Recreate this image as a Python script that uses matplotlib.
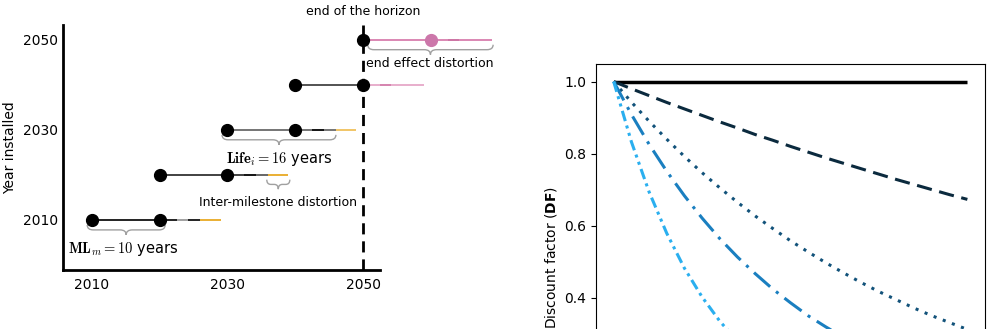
import numpy as np
import matplotlib
matplotlib.use("Agg")
import matplotlib.pyplot as plt
from matplotlib.path import Path
from matplotlib.patches import PathPatch

# ---- left panel: vintages and their lifetimes ------------------------------
rows = [2010, 2020, 2030, 2040, 2050]
dots_black = [[2010, 2020], [2020, 2030], [2030, 2040], [2040, 2050], [2050]]
dot_pink = [2060, 2050]            # (x, row) of the pink milestone beyond the horizon
seg_bounds = [
    [2010, 2022.5, 2024.2, 2026, 2029],
    [2020, 2032.4, 2034.2, 2036, 2039],
    [2030, 2042.5, 2044.2, 2046, 2049],
    [2040, 2050, 2052.5, 2054.2, 2059],
    [2050, 2062.5, 2064.2, 2069],
]
seg_colors = [
    ["#111111", "#9a9a9a", "#111111", "#e8a923"],
    ["#333333", "#000000", "#5a5a5a", "#e8a923"],
    ["#6a6a6a", "#000000", "#6a6a6a", "#f0c05a"],
    ["#444444", "#e6a8c8", "#d27aa8", "#e6a8c8"],
    ["#d87eae", "#c8689c", "#d87eae"],
]
horizon = 2050

# ---- right panel: discount factor over 20 years ----------------------------
t = list(range(21))
df_0 = [1.0] * 21
df_2 = [1.0, .980, .961, .942, .924, .906, .888, .871, .853, .837, .820,
        .804, .788, .773, .758, .743, .728, .714, .700, .686, .673]
df_6 = [1.0, .943, .890, .840, .792, .747, .705, .665, .627, .592, .558,
        .527, .497, .469, .442, .417, .394, .371, .350, .331, .312]
df_10 = [1.0, .909, .826, .751, .683, .621, .564, .513, .467, .424, .386,
         .350, .319, .290, .263, .239, .218, .198, .180, .164, .149]
df_20 = [1.0, .833, .694, .579, .482, .402, .335, .279, .233, .194, .162,
         .135, .112, .093, .078, .065, .054, .045, .038, .031, .026]

fig = plt.figure(figsize=(9.93, 3.29), dpi=100)
ax = fig.add_axes([0.0634, 0.1793, 0.3193, 0.745])
ax2 = fig.add_axes([0.6002, -0.368, 0.3918, 1.1735])


def brace(ax, x0, x1, y, h=1.1, r=0.9, color="#a0a0a0"):
    """curly brace under a segment, opening upward (y = row)."""
    xm = (x0 + x1) / 2
    yt, yb, yp = y - h, y - 2 * h, y - 3 * h
    verts = [(x0, yt), (x0, yb), (x0 + r, yb),
             (xm - r, yb),
             (xm, yb), (xm, yp),
             (xm, yb), (xm + r, yb),
             (x1 - r, yb),
             (x1, yb), (x1, yt)]
    codes = [Path.MOVETO, Path.CURVE3, Path.CURVE3,
             Path.LINETO,
             Path.CURVE3, Path.CURVE3,
             Path.CURVE3, Path.CURVE3,
             Path.LINETO,
             Path.CURVE3, Path.CURVE3]
    ax.add_patch(PathPatch(Path(verts, codes), fc="none", ec=color, lw=1.0,
                           clip_on=False))


for row, bnds, cols in zip(rows, seg_bounds, seg_colors):
    for i, c in enumerate(cols):
        ax.plot(bnds[i:i + 2], [row, row], color=c, lw=1.3,
                solid_capstyle="butt", clip_on=False, zorder=2)
for row, xs in zip(rows, dots_black):
    ax.plot(xs, [row] * len(xs), "o", color="black", ms=8.5, clip_on=False, zorder=4)
ax.plot(dot_pink[0], dot_pink[1], "o", color="#cc77aa", ms=8.5, clip_on=False, zorder=4)

ax.axvline(horizon, color="black", ls=(0, (4, 2.5)), lw=2, zorder=3, clip_on=False)

brace(ax, 2009.3, 2020.8, 2010)
brace(ax, 2029.2, 2046.0, 2030)
brace(ax, 2035.8, 2039.2, 2020, h=1.05, r=0.6)
brace(ax, 2050.7, 2069.2, 2050)

ax.text(2006.5, 2003.6, r"$\mathbf{ML}_m = 10$ years", fontsize=10.5,
        math_fontfamily="cm", ha="left", va="center")
ax.text(2037.6, 2023.6, r"$\mathbf{Life}_i = 16$ years", fontsize=10.5,
        math_fontfamily="cm", ha="center", va="center")
ax.text(2037.4, 2013.9, "Inter-milestone distortion", fontsize=9,
        ha="center", va="center")
ax.text(2059.9, 2044.8, "end effect distortion", fontsize=9,
        ha="center", va="center")
ax.text(horizon, 2056.2, "end of the horizon", fontsize=9,
        ha="center", va="center")

ax.set_xlim(2005.72, 2052.51)
ax.set_ylim(1998.9, 2053.3)
ax.set_xticks([2010, 2030, 2050])
ax.set_yticks([2010, 2030, 2050])
ax.tick_params(axis="x", length=0, labelsize=10, pad=6)
ax.tick_params(axis="y", length=0, labelsize=10, pad=3.5)
ax.set_ylabel("Year installed", fontsize=10, labelpad=4)
for s in ["top", "right"]:
    ax.spines[s].set_visible(False)
for s in ["left", "bottom"]:
    ax.spines[s].set_linewidth(2)

# ---- discount factor panel --------------------------------------------------
ax2.plot(t, df_0, color="black", lw=2.5, solid_capstyle="butt")
ax2.plot(t, df_2, color="#0b2a3e", lw=2.2, ls=(0, (5, 2.5)))
ax2.plot(t, df_6, color="#12527a", lw=2.2, ls=(0, (1, 2.2)))
ax2.plot(t, df_10, color="#1a7fc0", lw=2.2, ls=(0, (7, 2.5, 1, 2.5)))
ax2.plot(t, df_20, color="#2aafef", lw=2.2, ls=(0, (3.5, 1.5, 1, 1.5, 1, 1.5)))
ax2.set_yticks([0.4, 0.6, 0.8, 1.0])
ax2.tick_params(labelsize=10)
ax2.tick_params(axis="x", labelbottom=False)   # below the visible crop anyway
ax2.set_ylabel(r"Discount factor ($\mathbf{DF}$)", fontsize=10)

fig.savefig("out.png", dpi=100)
